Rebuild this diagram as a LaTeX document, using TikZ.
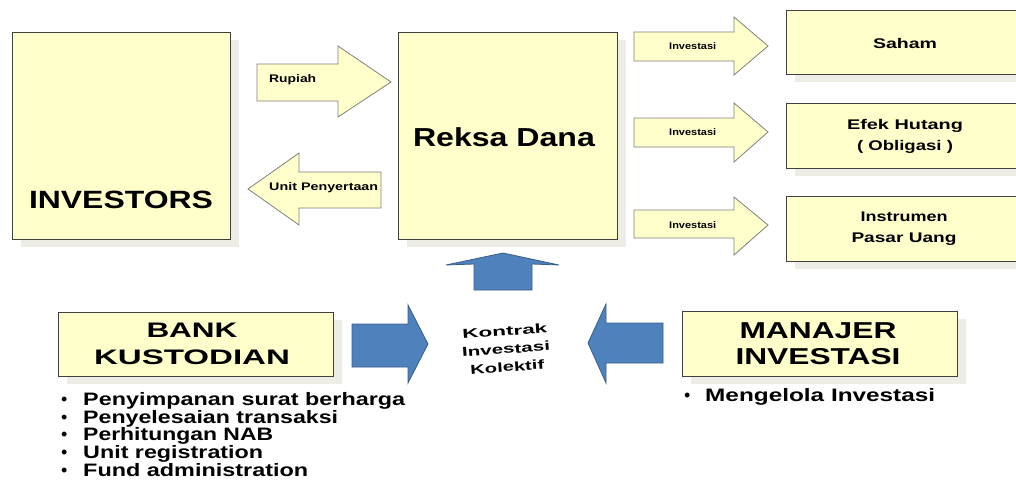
\documentclass[tikz,border=0pt]{standalone}
\usepackage{fontspec}
\setmainfont{Liberation Sans}
\usepackage{graphicx}
\definecolor{boxfill}{HTML}{FFFFCC}
\definecolor{boxline}{HTML}{404040}
\definecolor{arrline}{HTML}{7F7F7F}
\definecolor{shadowc}{HTML}{EDEDE6}
\definecolor{bluefill}{HTML}{4F81BD}
\definecolor{bluedark}{HTML}{385D8A}
\newsavebox\fitbox
\newlength\fitlen
\newcommand\fitw[3]{\sbox\fitbox{\fontsize{#2}{#2}\selectfont\bfseries #3}\setlength\fitlen{\wd\fitbox}\pgfmathsetmacro\fitsx{#1/\fitlen}\scalebox{\fitsx}[1]{\usebox\fitbox}}
\begin{document}
\begin{tikzpicture}[x=1pt,y=-1pt,
  box/.style={draw=boxline, fill=boxfill, line width=1pt, inner sep=0, anchor=north west},
  shadowbox/.style={fill=shadowc, draw=none},
  yarrow/.style={draw=arrline, fill=boxfill, line width=0.8pt, line join=miter},
  barrow/.style={draw=bluedark, fill=bluefill, line width=0.8pt, line join=miter},
  lbl/.style={inner sep=0, text=black}]
\useasboundingbox (0,0) rectangle (1016,479);
\clip (0,0) rectangle (1016,479);
% shadows
\fill[shadowbox] (21,40) rectangle (239,247);
\fill[shadowbox] (407,40) rectangle (626,247);
\fill[shadowbox] (795,18) rectangle (1034,82);
\fill[shadowbox] (795,111) rectangle (1034,176);
\fill[shadowbox] (795,204) rectangle (1034,269);
\fill[shadowbox] (67,320) rectangle (342,384);
\fill[shadowbox] (691,319) rectangle (966,384);
% boxes
\node[box, minimum width=218, minimum height=207] (inv) at (12,32) {};
\node[box, minimum width=219, minimum height=207] (rd) at (398,32) {};
\node[box, minimum width=239, minimum height=64] (saham) at (786,10) {};
\node[box, minimum width=239, minimum height=65] (efek) at (786,103) {};
\node[box, minimum width=239, minimum height=65] (instr) at (786,196) {};
\node[box, minimum width=275, minimum height=64] (bk) at (58,312) {};
\node[box, minimum width=275, minimum height=65] (mi) at (682,311) {};
% box texts
\node[lbl, anchor=base] (invt) at (121,208) {\fitw{184}{25}{INVESTORS}};
\node[lbl, anchor=base] (rdt) at (504,146.5) {\fitw{182}{26}{Reksa Dana}};
\node[lbl, anchor=base] (sahamt) at (905,48) {\fitw{64}{14}{Saham}};
\node[lbl, align=center, font=\fontsize{14}{21}\selectfont] (efekt) at (905,136) {\fitw{116}{14}{Efek Hutang}\\\fitw{96}{14}{( Obligasi )}};
\node[lbl, align=center, font=\fontsize{14}{21}\selectfont] (instrt) at (904,229) {\fitw{87}{14}{Instrumen}\\\fitw{105}{14}{Pasar Uang}};
\node[lbl, align=center, font=\fontsize{21}{27}\selectfont] (bkt) at (192,344) {\fitw{91}{21}{BANK}\\\fitw{196}{21}{KUSTODIAN}};
\node[lbl, align=center, font=\fontsize{23}{26}\selectfont] (mit) at (818,344) {\fitw{157}{23}{MANAJER}\\\fitw{165}{23}{INVESTASI}};
% yellow arrows
\draw[yarrow] (257,64) -- (338,64) -- (338,46) -- (391,82) -- (338,117) -- (338,101) -- (257,101) -- cycle;
\node[lbl, anchor=base west] (rupiah) at (269,82) {\fitw{47}{11}{Rupiah}};
\draw[yarrow] (248,189) -- (299,153) -- (299,172) -- (381,172) -- (381,208) -- (299,208) -- (299,225) -- cycle;
\node[lbl, anchor=base west] (unit) at (269,190) {\fitw{109}{11}{Unit Penyertaan}};
\draw[yarrow] (634,32) -- (734,32) -- (734,17) -- (768,46) -- (734,75) -- (734,61) -- (634,61) -- cycle;
\node[lbl, anchor=base west] (inv1) at (669,49.5) {\fitw{47}{9.5}{Investasi}};
\draw[yarrow] (634,118) -- (734,118) -- (734,103) -- (768,132) -- (734,162) -- (734,147) -- (634,147) -- cycle;
\node[lbl, anchor=base west] (inv2) at (669,135.5) {\fitw{47}{9.5}{Investasi}};
\draw[yarrow] (634,210) -- (734,210) -- (734,197) -- (768,225) -- (734,255) -- (734,238) -- (634,238) -- cycle;
\node[lbl, anchor=base west] (inv3) at (669,228.5) {\fitw{47}{9.5}{Investasi}};
% blue arrows
\draw[barrow] (474,290) -- (474,264) -- (446,265) -- (503,253) -- (559,265) -- (532,264) -- (532,290) -- cycle;
\draw[barrow] (352,324) -- (408,324) -- (408,305) -- (428,344) -- (408,383) -- (408,367) -- (352,367) -- cycle;
\draw[barrow] (663,323) -- (606,323) -- (606,304) -- (588,343) -- (606,383) -- (606,363) -- (663,363) -- cycle;
% central text
\node[lbl, align=center, rotate=4, font=\fontsize{13}{18}\selectfont] (kik) at (506,349) {\fitw{85}{13}{Kontrak}\\\fitw{88}{13}{Investasi}\\\fitw{74}{13}{Kolektif}};
% bullet lists
\node[lbl, anchor=west, align=left, font=\fontsize{18}{16.75}\selectfont] (bkl) at (61,434.5) {%
\makebox[22pt][l]{\textbullet}\fitw{322}{18}{Penyimpanan surat berharga}\\
\makebox[22pt][l]{\textbullet}\fitw{255}{18}{Penyelesaian transaksi}\\
\makebox[22pt][l]{\textbullet}\fitw{190}{18}{Perhitungan NAB}\\
\makebox[22pt][l]{\textbullet}\fitw{180}{18}{Unit registration}\\
\makebox[22pt][l]{\textbullet}\fitw{225}{18}{Fund administration}};
\node[lbl, anchor=base west, font=\fontsize{18}{18}\selectfont] (mil) at (684,401.5) {\makebox[21pt][l]{\textbullet}\fitw{230}{18}{Mengelola Investasi}};
\end{tikzpicture}
\end{document}
